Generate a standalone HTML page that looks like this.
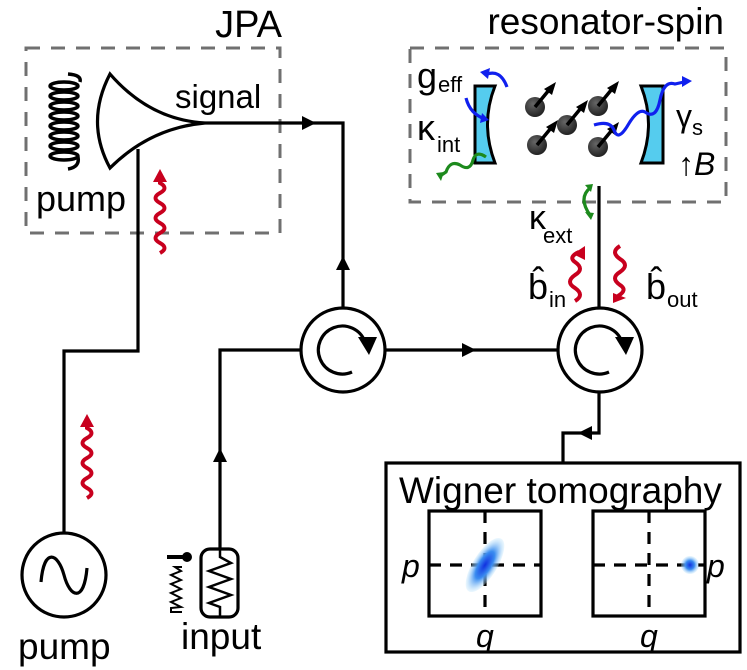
<!DOCTYPE html>
<html><head><meta charset="utf-8"><style>
html,body{margin:0;padding:0;background:#fff}
svg{display:block}
text{font-family:"Liberation Sans",Arial,sans-serif;fill:#000}
</style></head><body>
<svg width="747" height="670" viewBox="0 0 747 670" xmlns="http://www.w3.org/2000/svg">
<defs>
<radialGradient id="g1" cx="50%" cy="50%" r="50%">
<stop offset="0" stop-color="#1030e0"/><stop offset="0.5" stop-color="#3a8cf0"/><stop offset="1" stop-color="#bfe6fb" stop-opacity="0.3"/>
</radialGradient>
<radialGradient id="sp" cx="40%" cy="35%" r="65%"><stop offset="0" stop-color="#666"/><stop offset="1" stop-color="#222"/></radialGradient>
</defs>
<rect x="26" y="48" width="254" height="185" fill="none" stroke="#707070" stroke-width="3" stroke-dasharray="14,11"/>
<rect x="410" y="48" width="316" height="154" fill="none" stroke="#707070" stroke-width="3" stroke-dasharray="14,11"/>
<text x="282" y="37" font-size="38" text-anchor="end">JPA</text>
<text x="724" y="34" font-size="37" text-anchor="end">resonator-spin</text>
<text x="175" y="108" font-size="33">signal</text>
<text x="36" y="211" font-size="36">pump</text>
<g fill="none" stroke="#000" stroke-width="3.5">
<path d="M68 74 q14 1 12 8"/>
<ellipse cx="64" cy="86" rx="14" ry="4"/><ellipse cx="64" cy="96" rx="14" ry="4"/>
<ellipse cx="64" cy="106" rx="14" ry="4"/><ellipse cx="64" cy="116" rx="14" ry="4"/>
<ellipse cx="64" cy="126" rx="14" ry="4"/><ellipse cx="64" cy="136" rx="14" ry="4"/>
<ellipse cx="64" cy="146" rx="14" ry="4"/><ellipse cx="64" cy="156" rx="14" ry="4"/>
<path d="M78 157 q2 10 -10 12"/>
<path d="M110 74 Q85 122 110 168 Q150 128 205 123 Q150 120 110 74 Z" stroke-width="3.2"/>
</g>
<g fill="none" stroke="#000" stroke-width="3.2">
<path d="M205 123 H343 V308"/>
<path d="M138 149 V351 H64 V533"/>
<path d="M220 550 V350 H301"/>
<path d="M385 350 H558"/>
<path d="M599 186 V308"/>
<path d="M599 392 V433 H563 V463"/>
<circle cx="64" cy="575" r="42"/>
<path d="M41 582 C44 547 58 553 64 575 C70 598 84 603 87 568"/>
<circle cx="343" cy="350" r="42"/>
<circle cx="600" cy="350" r="42"/>
<path d="M352 372 A24 24 0 1 1 365 342"/>
<path d="M609 372 A24 24 0 1 1 622 342"/>
<rect x="201" y="549" width="37" height="68" rx="9"/>
<path d="M220 550 V557 L231 563 L209 571 L231 579 L209 587 L231 595 L209 603 L220 607 V617" stroke-width="2.5"/>
<path d="M167 557 H186" stroke-width="4"/>
<path d="M182 567 H175 L181 571 L171 575 L181 580 L171 584 L181 589 L171 593 L181 598 L171 602 L181 607 L171 608 V612 H182" stroke-width="2"/>
<rect x="386" y="463" width="354" height="189"/>
<rect x="429" y="511" width="112" height="105"/>
<rect x="593" y="511" width="112" height="105"/>
<path d="M485 511 V616 M429 565 H541 M649 511 V616 M593 565 H705" stroke-dasharray="12,9"/>
</g>
<circle cx="187" cy="557" r="5"/>
<g fill="#000">
<path d="M302 116 L316 123 L302 130 Z"/>
<path d="M336 270 L343 256 L350 270 Z"/>
<path d="M213 462 L220 448 L227 462 Z"/>
<path d="M462 343 L476 350 L462 357 Z"/>
<path d="M592 426 L578 433 L592 440 Z"/>
<path d="M358 337 L377 337 L369 355 Z"/>
<path d="M615 337 L634 337 L626 355 Z"/>
</g>
<text x="399" y="503" font-size="37">Wigner tomography</text>
<ellipse cx="485" cy="565" rx="12" ry="31" transform="rotate(32 485 565)" fill="url(#g1)"/>
<circle cx="690" cy="565" r="9" fill="url(#g1)"/>
<g font-size="32" font-style="italic">
<text x="402" y="577">p</text><text x="476" y="647">q</text>
<text x="707" y="577">p</text><text x="640" y="647">q</text>
</g>
<text x="18" y="659" font-size="37">pump</text>
<text x="181" y="649" font-size="37">input</text>
<g fill="none" stroke="#c8001e" stroke-width="4">
<path d="M160 253 q9 -5 0 -10 q-9 -5 0 -10 q9 -5 0 -10 q-9 -5 0 -10 q9 -5 0 -10 q-9 -5 0 -10 q9 -5 0 -10 V180"/>
<path d="M87 498 q9 -5 0 -10 q-9 -5 0 -10 q9 -5 0 -10 q-9 -5 0 -10 q9 -5 0 -10 q-9 -5 0 -10 q9 -5 0 -10 V425"/>
<path d="M575 301 q10 -6 0 -13 q-10 -6 0 -13 q10 -6 0 -13 q-7 -5 4 -10"/>
<path d="M620 246 q-10 6 0 13 q10 6 0 13 q-10 6 0 13 q8 5 -2 11"/>
</g>
<g fill="#c8001e">
<path d="M153 182 L160 169 L167 182 Z"/><path d="M80 427 L87 414 L94 427 Z"/>
<path d="M573 254 L585 246 L585 260 Z"/><path d="M613 293 L626 298 L613 303 Z"/>
</g>
<g stroke="#000" stroke-width="3" fill="#55ccee">
<path d="M475 86 H495 Q480 124 495 163 H475 Z"/>
<path d="M663 86 H641 Q656 124 641 163 H663 Z"/>
</g>
<g>
<circle cx="535" cy="107" r="10" fill="url(#sp)"/><circle cx="567" cy="125" r="10" fill="url(#sp)"/>
<circle cx="598" cy="106" r="10" fill="url(#sp)"/><circle cx="537" cy="145" r="10" fill="url(#sp)"/>
<circle cx="598" cy="147" r="10" fill="url(#sp)"/>
</g>
<g stroke="#000" stroke-width="3.5">
<path d="M535 107 L549 90 M567 125 L581 108 M598 106 L612 89 M537 145 L551 128 M598 147 L612 130"/>
</g>
<g fill="#000">
<path d="M544 89 L556 82 L552 95 Z"/>
<path d="M576 107 L588 100 L584 113 Z"/><path d="M607 88 L619 81 L615 94 Z"/>
<path d="M546 127 L558 120 L554 133 Z"/><path d="M607 129 L619 122 L615 135 Z"/>
</g>
<g fill="none" stroke="#1020ee" stroke-width="3.2">
<path d="M485 75 Q500 68 507 87"/>
<path d="M466 98 Q470 114 485 119"/>
<path d="M594 125 Q610 120 614 130 Q618 142 628 125 Q638 108 645 112 Q656 120 660 100 Q664 80 675 84 L684 82"/>
</g>
<g fill="#1020ee"><path d="M480 72 L490 68 L488 79 Z"/><path d="M482 113 L489 120 L480 123 Z"/><path d="M682 76 L692 81 L682 87 Z"/></g>
<g fill="none" stroke="#1d8a1d" stroke-width="3.2">
<path d="M486 157 Q476 150 473 160 Q470 172 460 165 Q450 160 446 172 L440 176"/>
<path d="M590 188 Q578 198 590 215"/>
</g>
<g fill="#1d8a1d"><path d="M436 173 L444 172 L441 181 Z"/><path d="M585 185 L593 184 L591 192 Z"/><path d="M585 212 L594 213 L591 220 Z"/></g>
<text x="417" y="88" font-size="36">g</text><text x="438" y="92" font-size="22">eff</text>
<text x="417" y="140" font-size="36">κ</text><text x="437" y="152" font-size="22">int</text>
<text x="676" y="127" font-size="32">γ</text><text x="692" y="135" font-size="22">s</text>
<text x="678" y="175" font-size="32" font-style="italic">↑B</text>
<text x="529" y="229" font-size="34">κ</text><text x="543" y="243" font-size="22">ext</text>
<text x="528" y="299" font-size="36">b̂</text><text x="549" y="307" font-size="22">in</text>
<text x="646" y="299" font-size="36">b̂</text><text x="667" y="307" font-size="22">out</text>
</svg>
</body></html>
